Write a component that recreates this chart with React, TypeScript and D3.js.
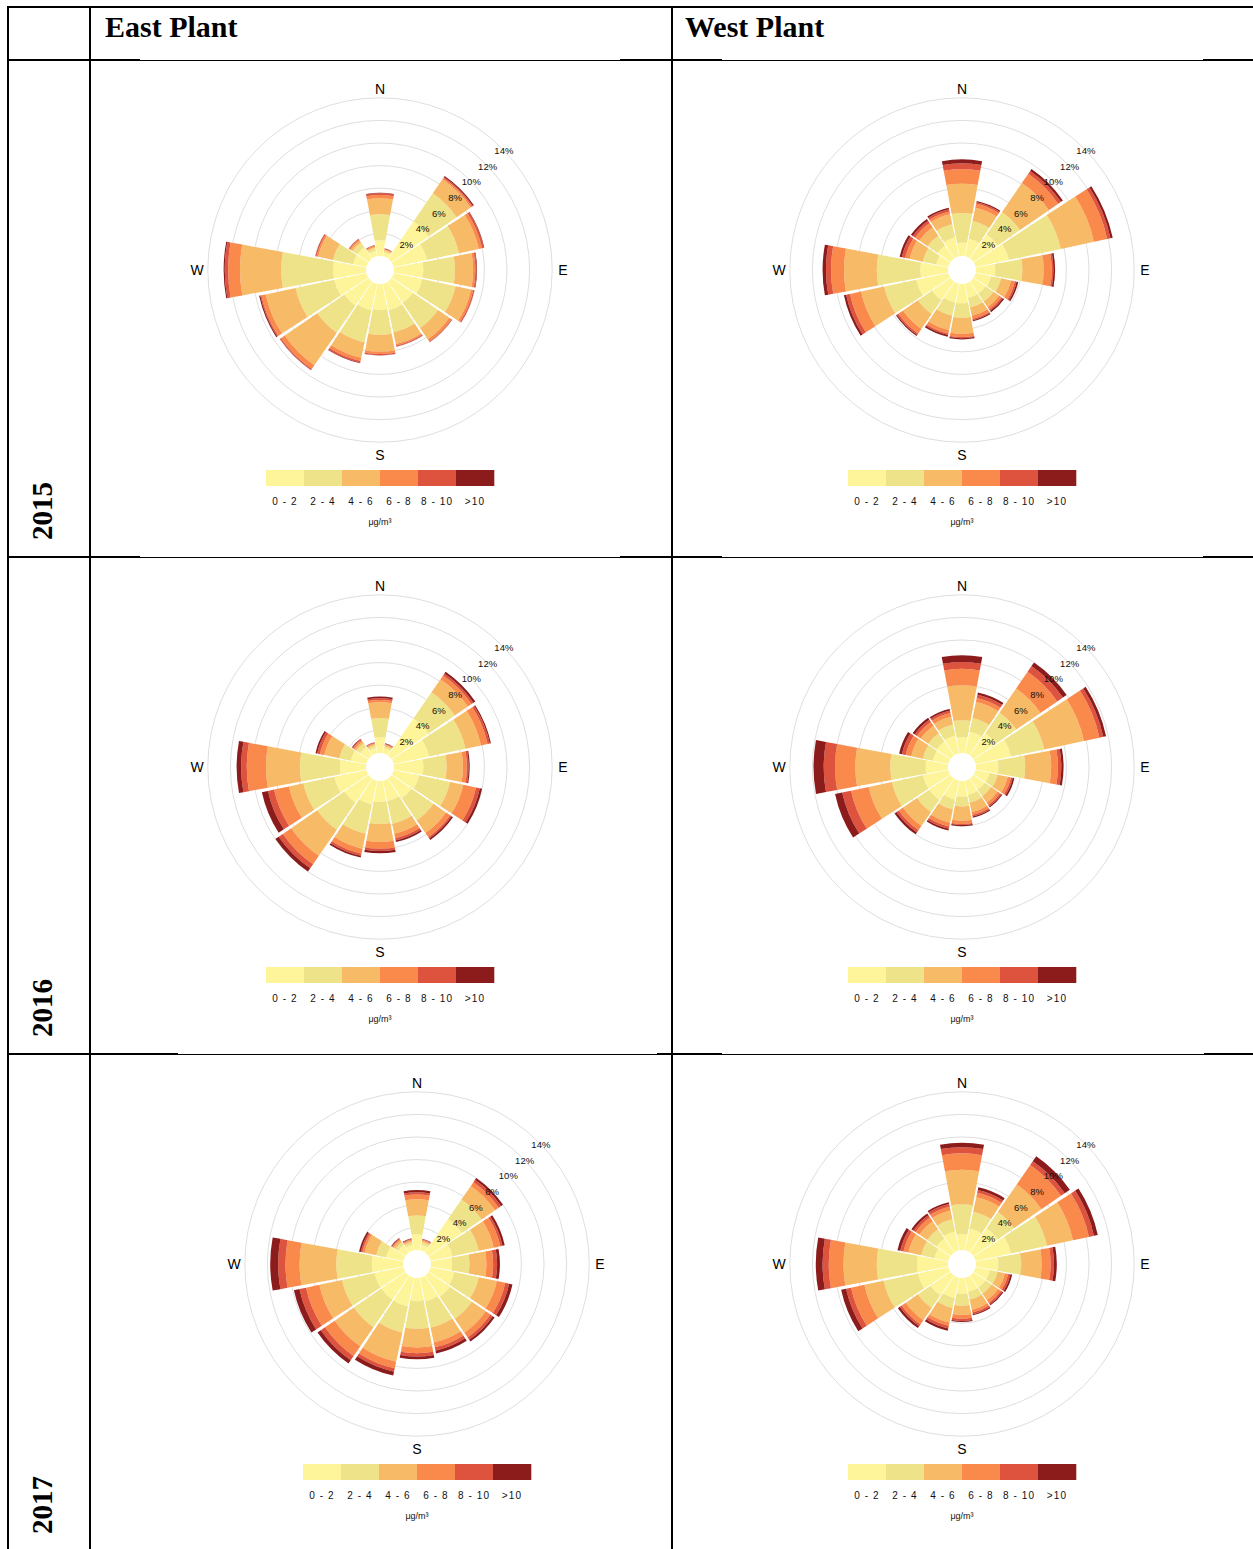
import React from 'react';
import * as d3 from 'd3';

// ---------- categories / labels ----------
const directions = ['N', 'NNE', 'NE', 'ENE', 'E', 'ESE', 'SE', 'SSE', 'S', 'SSW', 'SW', 'WSW', 'W', 'WNW', 'NW', 'NNW'];
const concBins = ['0 - 2', '2 - 4', '4 - 6', '6 - 8', '8 - 10', '>10'];
const binColors = ['#FEF59B', '#EFE38A', '#F7BA66', '#FA8A4C', '#DD533D', '#8C1B1C'];
const ringTicks = [2, 4, 6, 8, 10, 12, 14];
const compassLabels = ['N', 'E', 'S', 'W'];
const plantNames = ['East Plant', 'West Plant'];
const yearNames = ['2015', '2016', '2017'];
const unitLabel = 'μg/m³';

// ---------- series: % frequency per direction (rows, N clockwise) per concentration bin (columns) ----------
const east2015 = [
  [1.4, 2.3, 1.4, 0.3, 0.15, 0.05],
  [0.35, 0.15, 0.1, 0.05, 0.05, 0.02],
  [4.0, 3.0, 1.5, 0.15, 0.1, 0.1],
  [3.0, 2.9, 1.8, 0.3, 0.15, 0.05],
  [2.6, 2.8, 1.6, 0.2, 0.1, 0.05],
  [2.6, 3.0, 1.4, 0.2, 0.1, 0.02],
  [2.3, 2.7, 1.2, 0.25, 0.05, 0.02],
  [2.4, 2.0, 1.05, 0.15, 0.08, 0.02],
  [2.3, 2.2, 1.5, 0.2, 0.1, 0.02],
  [2.4, 2.9, 1.4, 0.3, 0.15, 0.05],
  [2.6, 2.9, 3.5, 0.4, 0.1, 0.03],
  [2.9, 3.5, 2.7, 0.4, 0.1, 0.1],
  [2.9, 4.6, 3.65, 1.05, 0.3, 0.1],
  [1.2, 1.8, 1.35, 0.15, 0.1, 0.02],
  [1.2, 0.5, 0.2, 0.15, 0.05, 0.02],
  [0.5, 0.25, 0.1, 0.1, 0.05, 0.02],
];

const west2015 = [
  [1.2, 2.6, 2.6, 1.3, 0.5, 0.35],
  [1.6, 1.6, 1.2, 0.35, 0.15, 0.1],
  [2.6, 2.4, 3.1, 1.0, 0.3, 0.2],
  [3.0, 4.7, 3.0, 1.2, 0.3, 0.2],
  [1.7, 2.4, 1.9, 0.7, 0.15, 0.15],
  [1.4, 0.9, 0.9, 0.35, 0.15, 0.15],
  [1.3, 0.85, 0.6, 0.25, 0.15, 0.15],
  [1.3, 0.85, 0.75, 0.3, 0.1, 0.1],
  [1.7, 1.3, 1.4, 0.3, 0.1, 0.1],
  [1.7, 1.2, 1.3, 0.3, 0.15, 0.15],
  [2.0, 1.5, 1.6, 0.5, 0.15, 0.1],
  [2.9, 2.9, 2.1, 1.0, 0.35, 0.2],
  [2.45, 3.85, 2.9, 1.15, 0.45, 0.3],
  [1.1, 1.2, 1.2, 0.4, 0.3, 0.2],
  [1.4, 1.05, 0.9, 0.45, 0.25, 0.2],
  [1.7, 1.2, 0.9, 0.25, 0.2, 0.15],
];

const east2016 = [
  [1.4, 1.7, 1.4, 0.2, 0.15, 0.15],
  [0.45, 0.2, 0.1, 0.07, 0.05, 0.03],
  [4.0, 2.8, 1.4, 0.4, 0.2, 0.2],
  [3.2, 3.3, 1.4, 0.6, 0.2, 0.1],
  [2.6, 2.05, 1.45, 0.35, 0.15, 0.1],
  [2.3, 2.8, 1.2, 1.15, 0.35, 0.2],
  [2.15, 2.35, 1.35, 0.45, 0.15, 0.15],
  [1.85, 2.05, 0.9, 0.4, 0.2, 0.15],
  [1.85, 1.95, 1.6, 0.6, 0.2, 0.2],
  [2.15, 2.65, 1.35, 0.45, 0.2, 0.15],
  [2.6, 2.9, 2.8, 0.9, 0.45, 0.35],
  [2.9, 2.8, 1.3, 1.35, 0.55, 0.55],
  [2.3, 3.55, 3.0, 1.7, 0.5, 0.4],
  [1.4, 1.05, 1.35, 0.4, 0.25, 0.15],
  [0.9, 0.4, 0.2, 0.15, 0.1, 0.05],
  [0.5, 0.22, 0.13, 0.07, 0.05, 0.03],
];

const west2016 = [
  [1.4, 1.5, 3.1, 1.45, 0.6, 0.6],
  [2.0, 1.2, 1.45, 0.35, 0.3, 0.2],
  [2.4, 2.2, 2.6, 1.8, 0.6, 0.4],
  [3.2, 3.0, 3.6, 1.4, 0.35, 0.25],
  [2.0, 2.35, 2.3, 0.6, 0.3, 0.2],
  [1.25, 0.75, 0.9, 0.3, 0.15, 0.15],
  [1.2, 0.7, 0.7, 0.25, 0.15, 0.1],
  [1.3, 0.7, 0.85, 0.25, 0.15, 0.1],
  [1.4, 0.85, 1.25, 0.3, 0.1, 0.1],
  [1.7, 0.9, 1.2, 0.35, 0.2, 0.15],
  [2.3, 1.3, 1.5, 0.45, 0.25, 0.2],
  [2.3, 2.8, 2.1, 1.6, 0.8, 0.65],
  [2.0, 3.1, 3.1, 1.8, 1.0, 0.9],
  [1.4, 0.9, 1.05, 0.5, 0.35, 0.25],
  [1.5, 0.9, 0.8, 0.4, 0.25, 0.2],
  [1.6, 1.0, 0.7, 0.35, 0.2, 0.15],
];

const east2017 = [
  [1.4, 1.65, 1.45, 0.4, 0.2, 0.2],
  [0.5, 0.25, 0.12, 0.08, 0.05, 0.05],
  [3.6, 2.1, 1.45, 0.4, 0.25, 0.2],
  [2.0, 2.35, 1.35, 0.6, 0.2, 0.2],
  [1.85, 1.55, 1.5, 0.6, 0.35, 0.25],
  [2.15, 2.2, 1.65, 0.75, 0.35, 0.3],
  [2.3, 2.35, 1.5, 0.5, 0.25, 0.2],
  [2.15, 2.35, 1.35, 0.45, 0.3, 0.25],
  [2.05, 2.45, 1.65, 0.5, 0.3, 0.25],
  [2.6, 2.35, 2.65, 0.6, 0.3, 0.35],
  [2.6, 2.95, 2.05, 1.05, 0.45, 0.35],
  [2.6, 2.95, 2.05, 1.2, 0.6, 0.5],
  [2.75, 3.15, 3.25, 1.25, 0.65, 0.7],
  [1.55, 0.9, 1.05, 0.2, 0.15, 0.15],
  [0.8, 0.3, 0.2, 0.12, 0.08, 0.05],
  [0.5, 0.25, 0.13, 0.1, 0.07, 0.05],
];

const west2017 = [
  [1.4, 2.65, 3.05, 1.45, 0.55, 0.4],
  [2.0, 1.5, 1.3, 0.4, 0.25, 0.25],
  [2.6, 1.75, 2.95, 2.1, 0.4, 0.55],
  [3.2, 3.25, 2.35, 1.45, 0.45, 0.35],
  [2.0, 2.0, 1.8, 0.8, 0.3, 0.25],
  [1.3, 0.7, 0.65, 0.3, 0.2, 0.15],
  [1.3, 0.65, 0.7, 0.3, 0.15, 0.1],
  [1.3, 0.7, 0.9, 0.25, 0.15, 0.1],
  [1.4, 1.05, 0.8, 0.35, 0.2, 0.1],
  [1.85, 0.9, 1.3, 0.3, 0.25, 0.2],
  [2.15, 1.35, 1.3, 0.45, 0.2, 0.2],
  [2.75, 3.1, 1.75, 1.2, 0.45, 0.45],
  [2.75, 3.55, 2.95, 1.3, 0.55, 0.6],
  [1.25, 1.2, 1.15, 0.45, 0.3, 0.25],
  [1.5, 1.0, 0.85, 0.4, 0.25, 0.2],
  [1.7, 1.1, 0.8, 0.35, 0.25, 0.15],
];

// ---------- drawing ----------
const W = 1253;
const H = 1549;
const sansFont = "'Liberation Sans', Arial, sans-serif";
const serifFont = "'Liberation Serif', 'Times New Roman', serif";

const rScale = d3.scaleLinear().domain([0, 14]).range([14, 172.2]);
const arcGen = d3.arc<any>();
const deg = (d: number) => (d * Math.PI) / 180;

function Rose({ data, cx, cy }: { data: number[][]; cx: number; cy: number }) {
  const step = 360 / directions.length;
  const gap = 0.8;
  const labelAngle = deg(46);
  const compassPos: Record<string, [number, number]> = {
    N: [0, -181],
    E: [183, 0],
    S: [0, 185],
    W: [-183, 0],
  };
  const legendW = 228;
  const boxW = legendW / concBins.length;
  return (
    <g transform={`translate(${cx},${cy})`}>
      {ringTicks.map((t) => (
        <circle key={t} r={rScale(t)} fill="none" stroke="#dadada" strokeWidth={0.9} />
      ))}
      {data.map((row, i) => {
        const cum = Array.from(d3.cumsum(row));
        const a0 = deg(i * step - step / 2 + gap);
        const a1 = deg(i * step + step / 2 - gap);
        return (
          <g key={directions[i]}>
            {row.map((v, j) => {
              const lo = j === 0 ? 0 : cum[j - 1];
              const d = arcGen({
                innerRadius: rScale(lo),
                outerRadius: rScale(cum[j]),
                startAngle: a0,
                endAngle: a1,
              });
              return <path key={j} d={d || ''} fill={binColors[j]} />;
            })}
          </g>
        );
      })}
      {ringTicks.map((t) => (
        <text
          key={'l' + t}
          x={rScale(t) * Math.sin(labelAngle)}
          y={-rScale(t) * Math.cos(labelAngle)}
          textAnchor="middle"
          dominantBaseline="central"
          fontFamily={sansFont}
          fontSize={9.5}
          fill="#111"
        >
          {t}%
        </text>
      ))}
      {compassLabels.map((c) => (
        <text
          key={c}
          x={compassPos[c][0]}
          y={compassPos[c][1]}
          textAnchor="middle"
          dominantBaseline="central"
          fontFamily={sansFont}
          fontSize={14}
          fill="#000"
        >
          {c}
        </text>
      ))}
      {concBins.map((b, j) => (
        <g key={b}>
          <rect x={-legendW / 2 + j * boxW} y={200} width={boxW + 0.3} height={16} fill={binColors[j]} />
          <text
            x={-legendW / 2 + j * boxW + boxW / 2}
            y={231.5}
            textAnchor="middle"
            dominantBaseline="central"
            fontFamily={sansFont}
            fontSize={10}
            letterSpacing={1.1}
            fill="#111"
          >
            {b}
          </text>
        </g>
      ))}
      <text x={0} y={252} textAnchor="middle" dominantBaseline="central" fontFamily={sansFont} fontSize={9} fill="#111">
        {unitLabel}
      </text>
    </g>
  );
}

export default function App() {
  const panels = [
    { data: east2015, cx: 380, cy: 270 },
    { data: west2015, cx: 962, cy: 270 },
    { data: east2016, cx: 380, cy: 767 },
    { data: west2016, cx: 962, cy: 767 },
    { data: east2017, cx: 417, cy: 1264 },
    { data: west2017, cx: 962, cy: 1264 },
  ];
  const rowLines = [
    { y: 60, thin: [[140, 620], [722, 1203]] },
    { y: 557, thin: [[140, 620], [722, 1203]] },
    { y: 1054, thin: [[178, 657], [722, 1204]] },
  ];
  const yearBottoms = [540, 1037, 1534];
  const thick = 2;

  return (
    <svg
      width={W}
      height={H}
      viewBox={`0 0 ${W} ${H}`}
      style={{ position: 'absolute', left: 0, top: 0, background: '#fff' }}
    >
      <rect x={0} y={0} width={W} height={H} fill="#fff" />
      {panels.map((p, i) => (
        <Rose key={i} data={p.data} cx={p.cx} cy={p.cy} />
      ))}

      {/* table grid */}
      <line x1={7} y1={7} x2={W} y2={7} stroke="#000" strokeWidth={thick} />
      {[8, 90, 672].map((x) => (
        <line key={x} x1={x} y1={6} x2={x} y2={H} stroke="#000" strokeWidth={thick} />
      ))}
      {rowLines.map((rl) => {
        const segs: any[] = [];
        let start = 7;
        rl.thin.forEach(([a, b], k) => {
          segs.push(<line key={'t' + k} x1={start} y1={rl.y} x2={a} y2={rl.y} stroke="#000" strokeWidth={thick} />);
          segs.push(
            <line key={'n' + k} x1={a} y1={rl.y + 0.5} x2={b} y2={rl.y + 0.5} stroke="#000" strokeWidth={1} shapeRendering="crispEdges" />
          );
          start = b;
        });
        segs.push(<line key="end" x1={start} y1={rl.y} x2={W} y2={rl.y} stroke="#000" strokeWidth={thick} />);
        return <g key={rl.y}>{segs}</g>;
      })}

      {/* headers */}
      <text x={105} y={37} fontFamily={serifFont} fontWeight="bold" fontSize={30} fill="#000">
        {plantNames[0]}
      </text>
      <text x={685} y={37} fontFamily={serifFont} fontWeight="bold" fontSize={30} fill="#000">
        {plantNames[1]}
      </text>
      {yearNames.map((y, i) => (
        <text
          key={y}
          transform={`translate(52,${yearBottoms[i]}) rotate(-90)`}
          fontFamily={serifFont}
          fontWeight="bold"
          fontSize={29}
          fill="#000"
        >
          {y}
        </text>
      ))}
    </svg>
  );
}
